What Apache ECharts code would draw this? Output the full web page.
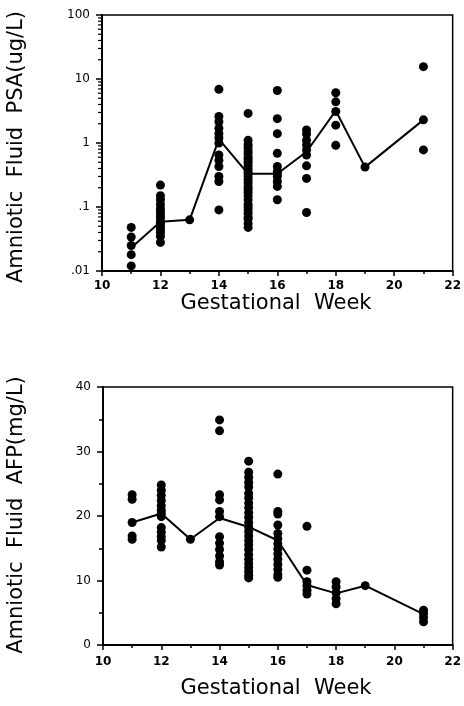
<!DOCTYPE html>
<html>
<head>
<meta charset="utf-8">
<script src="https://cdn.jsdelivr.net/npm/echarts@6/dist/echarts.min.js"></script>
<style>
html,body{margin:0;padding:0;background:#fff;}
#chart{width:464px;height:706px;}
</style>
</head>
<body>
<div id="chart"></div>
<script>
// ---- data ----
const weeks = [11, 12, 13, 14, 15, 16, 17, 18, 19, 21];
const xTickLabels = ['10', '12', '14', '16', '18', '20', '22'];
const psaTickLabels = ['.01', '.1', '1', '10', '100'];
const afpTickLabels = ['0', '10', '20', '30', '40'];

const psaPoints = [
  [0.048, 0.034, 0.025, 0.018, 0.012],
  [0.22, 0.15, 0.13, 0.11, 0.095, 0.085, 0.075, 0.068, 0.06, 0.055, 0.05, 0.045, 0.04, 0.035, 0.028],
  [0.063],
  [6.9, 2.6, 2.15, 1.7, 1.4, 1.2, 1.0, 0.65, 0.54, 0.43, 0.30, 0.25, 0.09],
  [2.9, 1.1, 0.95, 0.85, 0.75, 0.68, 0.6, 0.55, 0.5, 0.45, 0.4, 0.36, 0.33, 0.3, 0.27, 0.24, 0.21, 0.19, 0.17, 0.15, 0.13, 0.11, 0.1, 0.09, 0.08, 0.07, 0.065, 0.055, 0.048],
  [6.6, 2.4, 1.4, 0.69, 0.43, 0.36, 0.33, 0.30, 0.25, 0.21, 0.13],
  [1.6, 1.38, 1.1, 0.93, 0.78, 0.65, 0.44, 0.28, 0.082],
  [6.1, 4.4, 3.1, 1.9, 0.92],
  [0.42],
  [15.6, 2.3, 0.78]
];
const psaMeans = [0.023, 0.059, 0.063, 1.15, 0.33, 0.33, 0.73, 3.2, 0.42, 2.3];

const afpPoints = [
  [23.3, 22.6, 19.0, 16.9, 16.4],
  [24.8, 24.0, 23.2, 22.4, 21.6, 20.9, 20.4, 19.9, 18.2, 17.5, 16.8, 16.2, 15.2],
  [16.4],
  [34.9, 33.2, 23.3, 22.5, 20.7, 19.9, 16.8, 15.8, 14.8, 13.8, 12.9, 12.4],
  [28.5, 26.8, 26, 25.2, 24.5, 23.5, 22.8, 22, 21.3, 20.5, 19.8, 19, 18.3, 17.6, 16.9, 16.2, 15.5, 14.8, 14, 13.3, 12.6, 12, 11.4, 10.8, 10.4],
  [26.5, 20.7, 20.3, 18.6, 17.3, 16.5, 15.7, 14.9, 14.1, 13.3, 12.5, 11.7, 10.9, 10.5],
  [18.4, 11.6, 9.8, 9.2, 8.5, 7.9],
  [9.8, 9.0, 8.1, 7.2, 6.4],
  [9.2],
  [5.4, 4.9, 4.3, 3.6]
];
const afpMeans = [19.0, 20.4, 16.4, 19.7, 18.3, 16.2, 9.3, 8.0, 9.2, 4.8];

// minor tick values for the log axis (2..9 x decade)
const logMinorTicks = [];
[0.01, 0.1, 1, 10].forEach(d => { for (let k = 2; k <= 9; k++) logMinorTicks.push(+(d * k).toPrecision(3)); });

// ---- build ----
function flatten(points) {
  const out = [];
  points.forEach((arr, i) => arr.forEach(v => out.push([weeks[i], v])));
  return out;
}

const FONT = 'DejaVu Sans';
const black = '#000';

function xAxisCfg(gridIndex, margin) {
  return {
    type: 'value', gridIndex, min: 10, max: 22, interval: 2,
    axisLine: { show: true, lineStyle: { color: black, width: 2 } },
    axisTick: { show: true, length: 5, lineStyle: { color: black, width: 1.5 } },
    minorTick: { show: true, splitNumber: 2, length: 3, lineStyle: { color: black, width: 1.5 } },
    splitLine: { show: false },
    axisLabel: {
      color: black, fontFamily: FONT, fontSize: 12, fontWeight: 'bold', margin: margin,
      formatter: v => xTickLabels[xTickLabels.indexOf(String(v))] || String(v)
    }
  };
}

const option = {
  backgroundColor: '#fff',
  animation: false,
  grid: [
    { left: 102, top: 15, width: 353, height: 256, show: true, borderColor: black, borderWidth: 1.5, backgroundColor: 'transparent' },
    { left: 103, top: 387, width: 352, height: 258, show: true, borderColor: black, borderWidth: 1.5, backgroundColor: 'transparent' }
  ],
  xAxis: [xAxisCfg(0, 9), xAxisCfg(1, 11)],
  yAxis: [
    {
      type: 'log', gridIndex: 0, min: 0.01, max: 100, logBase: 10,
      axisLine: { show: true, lineStyle: { color: black, width: 2 } },
      axisTick: { show: true, length: 6, lineStyle: { color: black, width: 1.5 } },
      splitLine: { show: false },
      axisLabel: {
        color: black, fontFamily: FONT, fontSize: 12, margin: 12,
        formatter: v => {
          const idx = Math.round(Math.log10(v)) + 2;
          return psaTickLabels[idx] !== undefined ? psaTickLabels[idx] : '';
        }
      }
    },
    {
      type: 'value', gridIndex: 1, min: 0, max: 40, interval: 10,
      axisLine: { show: true, lineStyle: { color: black, width: 2 } },
      axisTick: { show: true, length: 6, lineStyle: { color: black, width: 1.5 } },
      minorTick: { show: true, splitNumber: 2, length: 4, lineStyle: { color: black, width: 1.5 } },
      splitLine: { show: false },
      axisLabel: {
        color: black, fontFamily: FONT, fontSize: 12, margin: 12,
        formatter: v => afpTickLabels[v / 10] !== undefined ? afpTickLabels[v / 10] : ''
      }
    }
  ],
  graphic: [
    { type: 'text', x: 17, y: 147, rotation: Math.PI / 2,
      style: { text: 'Amniotic  Fluid  PSA(ug/L)', fill: black, font: '21px "DejaVu Sans"', textAlign: 'center', textVerticalAlign: 'middle' } },
    { type: 'text', x: 17, y: 515, rotation: Math.PI / 2,
      style: { text: 'Amniotic  Fluid  AFP(mg/L)', fill: black, font: '21px "DejaVu Sans"', textAlign: 'center', textVerticalAlign: 'middle' } },
    { type: 'text', x: 276, y: 304,
      style: { text: 'Gestational  Week', fill: black, font: '21px "DejaVu Sans"', textAlign: 'center', textVerticalAlign: 'middle' } },
    { type: 'text', x: 276, y: 689,
      style: { text: 'Gestational  Week', fill: black, font: '21px "DejaVu Sans"', textAlign: 'center', textVerticalAlign: 'middle' } }
  ],
  series: [
    {
      type: 'scatter', xAxisIndex: 0, yAxisIndex: 0, data: flatten(psaPoints),
      symbol: 'circle', symbolSize: 9, itemStyle: { color: black, opacity: 1 }
    },
    {
      type: 'line', xAxisIndex: 0, yAxisIndex: 0, data: weeks.map((w, i) => [w, psaMeans[i]]),
      showSymbol: false, lineStyle: { color: black, width: 2 }
    },
    {
      type: 'scatter', xAxisIndex: 1, yAxisIndex: 1, data: flatten(afpPoints),
      symbol: 'circle', symbolSize: 9, itemStyle: { color: black, opacity: 1 }
    },
    {
      type: 'line', xAxisIndex: 1, yAxisIndex: 1, data: weeks.map((w, i) => [w, afpMeans[i]]),
      showSymbol: false, lineStyle: { color: black, width: 2 }
    },
    {
      type: 'custom', xAxisIndex: 0, yAxisIndex: 0, clip: false, silent: true, z: 10,
      data: logMinorTicks.map(v => [10, v]),
      renderItem: (params, api) => {
        const p = api.coord([api.value(0), api.value(1)]);
        return { type: 'line', shape: { x1: p[0] - 4, y1: p[1], x2: p[0] + 1, y2: p[1] }, style: { stroke: black, lineWidth: 1.2 } };
      }
    }
  ]
};

const chart = echarts.init(document.getElementById('chart'), null, { renderer: 'canvas' });
chart.setOption(option);
</script>
</body>
</html>
